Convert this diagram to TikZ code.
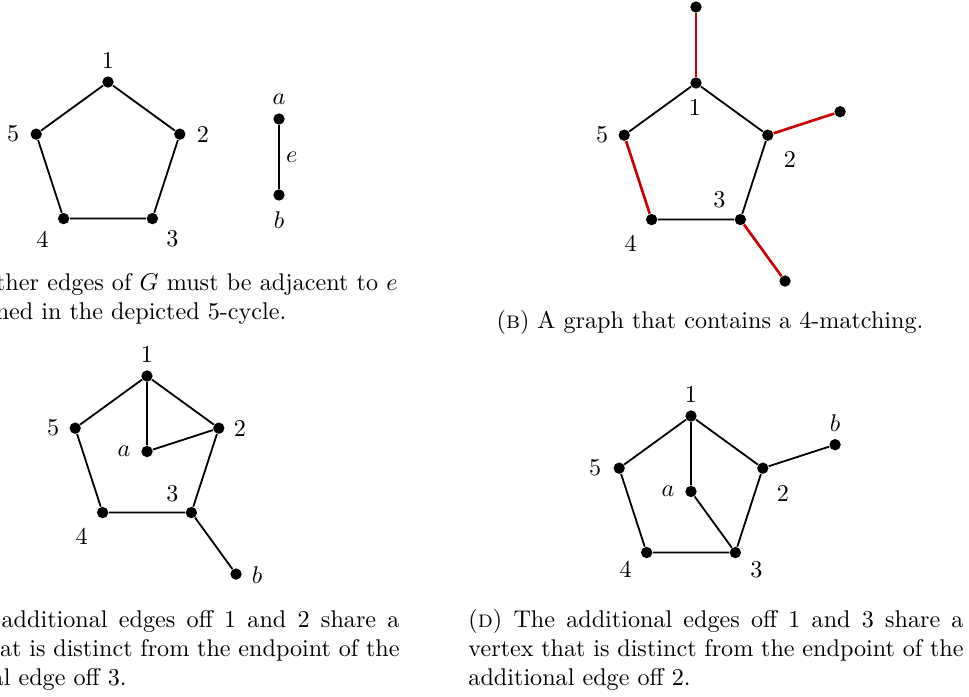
\documentclass[tikz,border=0pt]{standalone}
\usetikzlibrary{calc}
\definecolor{mred}{RGB}{204,0,0}
\begin{document}
\begin{tikzpicture}[x=0.41408pt,y=0.41408pt,
  vtx/.style={circle,fill=black,inner sep=0pt,minimum size=4.7pt},
  edge/.style={draw=black,line width=0.75pt},
  redge/.style={draw=mred,line width=1.1pt},
  lbl/.style={inner sep=0pt},
  capt/.style={inner sep=0pt,text width=205pt,align=justify,anchor=north west}]
\useasboundingbox (0,0) rectangle (969,-696);

% ---------- (a)
\coordinate (cA) at (108,-157.5);
\node[vtx] (A1) at ($(cA)+(90:75.5)$) {};
\node[vtx] (A2) at ($(cA)+(18:75.5)$) {};
\node[vtx] (A3) at ($(cA)+(-54:75.5)$) {};
\node[vtx] (A4) at ($(cA)+(-126:75.5)$) {};
\node[vtx] (A5) at ($(cA)+(162:75.5)$) {};
\node[vtx] (Aa) at (279,-119) {};
\node[vtx] (Ab) at (279,-195) {};
\draw[edge] (A1) -- (A2) -- (A3) -- (A4) -- (A5) -- (A1);
\draw[edge] (Aa) -- node[lbl,right=2.6pt] (Ae) {$e$} (Ab);
\node[lbl] (LA1) at ($(A1)+(0,22)$) {1};
\node[lbl] (LA2) at ($(A2)+(23,0)$) {2};
\node[lbl] (LA3) at ($(A3)+(20,-20)$) {3};
\node[lbl] (LA4) at ($(A4)+(-21,-21)$) {4};
\node[lbl] (LA5) at ($(A5)+(-23,0)$) {5};
\node[lbl] (LAa) at ($(Aa)+(0,20)$) {$a$};
\node[lbl] (LAb) at ($(Ab)+(0,-25)$) {$b$};

% ---------- (b)
\coordinate (cB) at (696,-158.5);
\node[vtx] (B1) at ($(cB)+(90:75.5)$) {};
\node[vtx] (B2) at ($(cB)+(18:75.5)$) {};
\node[vtx] (B3) at ($(cB)+(-54:75.5)$) {};
\node[vtx] (B4) at ($(cB)+(-126:75.5)$) {};
\node[vtx] (B5) at ($(cB)+(162:75.5)$) {};
\node[vtx] (P1) at ($(B1)+(90:76)$) {};
\node[vtx] (P2) at ($(B2)+(18:76)$) {};
\node[vtx] (P3) at ($(B3)+(-54:76)$) {};
\draw[edge] (B5) -- (B1) -- (B2) -- (B3) -- (B4);
\draw[redge] (B4) -- (B5);
\draw[redge] (B1) -- (P1);
\draw[redge] (B2) -- (P2);
\draw[redge] (B3) -- (P3);
\node[lbl] (LB1) at ($(B1)+(-1,-24)$) {1};
\node[lbl] (LB2) at ($(B2)+(22,-24)$) {2};
\node[lbl] (LB3) at ($(B3)+(-21,20)$) {3};
\node[lbl] (LB4) at ($(B4)+(-21,-24)$) {4};
\node[lbl] (LB5) at ($(B5)+(-22,0)$) {5};

% ---------- (c)
\coordinate (cC) at (147,-451.5);
\node[vtx] (C1) at ($(cC)+(90:75.5)$) {};
\node[vtx] (C2) at ($(cC)+(18:75.5)$) {};
\node[vtx] (C3) at ($(cC)+(-54:75.5)$) {};
\node[vtx] (C4) at ($(cC)+(-126:75.5)$) {};
\node[vtx] (C5) at ($(cC)+(162:75.5)$) {};
\node[vtx] (Ca) at (cC) {};
\node[vtx] (Cb) at ($(C3)+(-54:76)$) {};
\draw[edge] (C1) -- (C2) -- (C3) -- (C4) -- (C5) -- (C1);
\draw[edge] (C1) -- (Ca) -- (C2);
\draw[edge] (C3) -- (Cb);
\node[lbl] (LC1) at ($(C1)+(0,22)$) {1};
\node[lbl] (LC2) at ($(C2)+(21,0)$) {2};
\node[lbl] (LC3) at ($(C3)+(-19,19)$) {3};
\node[lbl] (LC4) at ($(C4)+(-21,-24)$) {4};
\node[lbl] (LC5) at ($(C5)+(-22,0)$) {5};
\node[lbl] (LCa) at ($(Ca)+(-23,0)$) {$a$};
\node[lbl] (LCb) at ($(Cb)+(21,-1)$) {$b$};

% ---------- (d)
\coordinate (cD) at (691,-491.5);
\node[vtx] (D1) at ($(cD)+(90:75.5)$) {};
\node[vtx] (D2) at ($(cD)+(18:75.5)$) {};
\node[vtx] (D3) at ($(cD)+(-54:75.5)$) {};
\node[vtx] (D4) at ($(cD)+(-126:75.5)$) {};
\node[vtx] (D5) at ($(cD)+(162:75.5)$) {};
\node[vtx] (Da) at (cD) {};
\node[vtx] (Db) at ($(D2)+(18:76)$) {};
\draw[edge] (D1) -- (D2) -- (D3) -- (D4) -- (D5) -- (D1);
\draw[edge] (D1) -- (Da) -- (D3);
\draw[edge] (D2) -- (Db);
\node[lbl] (LD1) at ($(D1)+(0,22)$) {1};
\node[lbl] (LD2) at ($(D2)+(20,-25)$) {2};
\node[lbl] (LD3) at ($(D3)+(21,-17)$) {3};
\node[lbl] (LD4) at ($(D4)+(-21,-17)$) {4};
\node[lbl] (LD5) at ($(D5)+(-24,0)$) {5};
\node[lbl] (LDa) at ($(Da)+(-23,0)$) {$a$};
\node[lbl] (LDb) at ($(Db)+(0,22)$) {$b$};

% ---------- captions
\node[capt] (capA) at (-98,-272) {(\textsc{a}) All other edges of $G$ must be adjacent to $e$\linebreak or contained in the depicted 5-cycle.};
\node[inner sep=0pt,anchor=base] (capB) at (710,-328) {(\textsc{b}) A graph that contains a 4-matching.};
\node[capt] (capC) at (-96,-609) {(\textsc{c}) The additional edges off 1 and 2 share a\linebreak vertex that is distinct from the endpoint of the\linebreak additional edge off 3.};
\node[capt] (capD) at (468,-609) {(\textsc{d}) The additional edges off 1 and 3 share a\linebreak vertex that is distinct from the endpoint of the\linebreak additional edge off 2.};
\end{tikzpicture}
\end{document}
